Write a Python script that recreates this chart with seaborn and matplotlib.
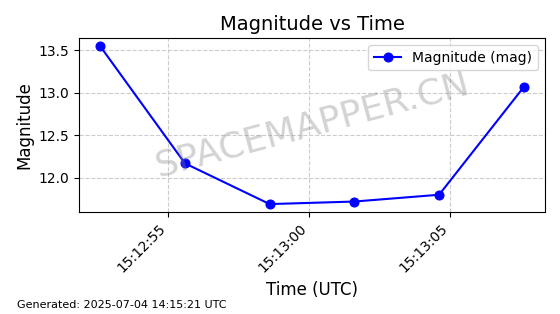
import pandas as pd
import numpy as np
import matplotlib
matplotlib.use('Agg')
import matplotlib.pyplot as plt
import matplotlib.dates as mdates
import seaborn as sns

# Dados
tempos = ['2025-07-04 15:12:52.6', '2025-07-04 15:12:55.6', '2025-07-04 15:12:58.6',
          '2025-07-04 15:13:01.6', '2025-07-04 15:13:04.6', '2025-07-04 15:13:07.6']
magnitudes = [13.55, 12.17, 11.69, 11.72, 11.80, 13.07]

df = pd.DataFrame({'time': pd.to_datetime(tempos), 'mag': magnitudes})

fig, ax = plt.subplots(figsize=(5.6, 3.14), dpi=100)
sns.lineplot(data=df, x='time', y='mag', marker='o', color='blue', markersize=6.5,
             markeredgecolor='blue', label='Magnitude (mag)', ax=ax)

ax.set_title('Magnitude vs Time', fontsize=14)
ax.set_xlabel('Time (UTC)', fontsize=12)
ax.set_ylabel('Magnitude', fontsize=12)
ax.grid(True, linestyle='--', color='#cccccc', linewidth=0.8)
ax.xaxis.set_major_locator(mdates.SecondLocator(bysecond=range(0, 60, 5)))
ax.xaxis.set_major_formatter(mdates.DateFormatter('%H:%M:%S'))
plt.setp(ax.get_xticklabels(), rotation=45, ha='right')
ax.legend(loc='upper right')

# Marca d'água
ax.text(0.5, 0.5, 'SPACEMAPPER.CN', transform=ax.transAxes, fontsize=26,
        color='gray', alpha=0.35, rotation=15, ha='center', va='center')

fig.text(0.03, 0.02, 'Generated: 2025-07-04 14:15:21 UTC', fontsize=8)

plt.tight_layout()
plt.savefig('out.png')
